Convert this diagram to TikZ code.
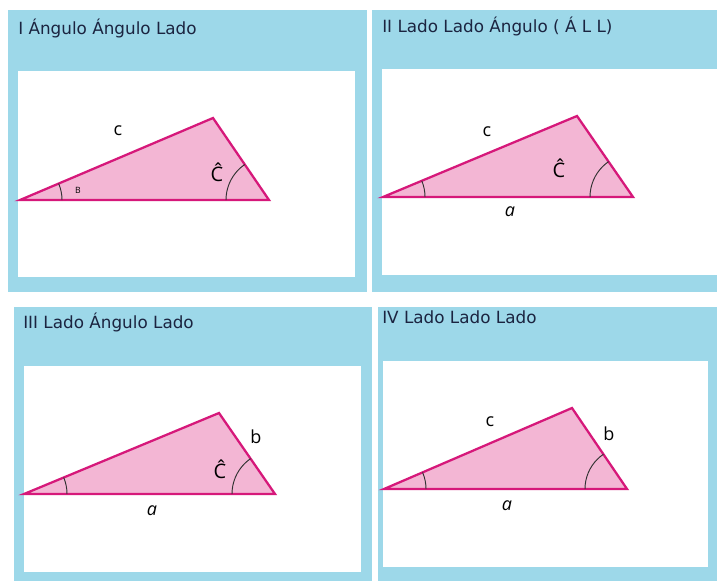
\documentclass[tikz,border=0pt]{standalone}
\usepackage{fontspec}
\setmainfont{DejaVu Sans}
\newfontfamily\lblfont{Open Sans}
\definecolor{panelblue}{RGB}{157,216,233}
\definecolor{trifill}{RGB}{243,182,212}
\definecolor{triedge}{RGB}{214,24,122}
\definecolor{titlecol}{RGB}{27,36,64}
\definecolor{arccol}{RGB}{50,50,50}
\tikzset{
  panel/.style={fill=panelblue, draw=none},
  inner/.style={fill=white, draw=none},
  tri/.style={fill=trifill, draw=triedge, line width=1.7pt, line join=miter},
  anglearc/.style={draw=arccol, line width=0.7pt},
  ttl/.style={anchor=base west, inner sep=0pt, text=titlecol, font=\fontsize{12.6}{14}\selectfont},
  lbl/.style={inner sep=0pt, text=black, font=\lblfont\fontsize{13.5}{15}\selectfont},
  hatlbl/.style={inner sep=0pt, text=black, font=\lblfont\fontsize{15}{17}\selectfont},
  small/.style={inner sep=0pt, text=black, font=\lblfont\fontsize{6.5}{7}\selectfont}
}
\begin{document}
\begin{tikzpicture}[x=0.75pt, y=-0.75pt]
\useasboundingbox (0,0) rectangle (717,581);
\fill[white] (0,0) rectangle (717,581);
% panels
\fill[panel] (8,10) rectangle (367,292);
\fill[inner] (18,71) rectangle (355,277);
\fill[panel] (372,10) rectangle (717,292);
\fill[inner] (382,69) rectangle (717,275);
\fill[panel] (14,307) rectangle (372,581);
\fill[inner] (24,366) rectangle (361,572);
\fill[panel] (378,307) rectangle (717,581);
\fill[inner] (383,361) rectangle (708,567);
% titles
\node[ttl] (t1) at (18,35) {I Ángulo Ángulo Lado};
\node[ttl] (t2) at (382,33) {II Lado Lado Ángulo ( Á L L)};
\node[ttl] (t3) at (23,328) {III Lado Ángulo Lado};
\node[ttl] (t4) at (382,323) {IV Lado Lado Lado};
% triangle I
\coordinate (a1) at (20,200); \coordinate (b1) at (213,118); \coordinate (c1) at (269,200);
\draw[tri] (a1) -- (b1) -- (c1) -- cycle;
\begin{scope}
 \clip (a1) -- (b1) -- (c1) -- cycle;
 \draw[anglearc] (a1) circle (42);
 \draw[anglearc] (c1) circle (43);
\end{scope}
\node[lbl] (l1c) at (118,131) {c};
\node[small] (l1b) at (78,190) {B};
\node[hatlbl] (l1h) at (217,172) {Ĉ};
% triangle II
\coordinate (a2) at (383,197); \coordinate (b2) at (577,116); \coordinate (c2) at (633,197);
\draw[tri] (a2) -- (b2) -- (c2) -- cycle;
\begin{scope}
 \clip (a2) -- (b2) -- (c2) -- cycle;
 \draw[anglearc] (a2) circle (42);
 \draw[anglearc] (c2) circle (43);
\end{scope}
\node[lbl] (l2c) at (487,132) {c};
\node[lbl] (l2a) at (510,212) {\itshape a};
\node[hatlbl] (l2h) at (559,168) {Ĉ};
% triangle III
\coordinate (a3) at (24,494); \coordinate (b3) at (219,413); \coordinate (c3) at (275,494);
\draw[tri] (a3) -- (b3) -- (c3) -- cycle;
\begin{scope}
 \clip (a3) -- (b3) -- (c3) -- cycle;
 \draw[anglearc] (a3) circle (43);
 \draw[anglearc] (c3) circle (43);
\end{scope}
\node[lbl] (l3b) at (256,437) {b};
\node[hatlbl] (l3h) at (220,469) {Ĉ};
\node[lbl] (l3a) at (152,511) {\itshape a};
% triangle IV
\coordinate (a4) at (384,489); \coordinate (b4) at (572,408); \coordinate (c4) at (627,489);
\draw[tri] (a4) -- (b4) -- (c4) -- cycle;
\begin{scope}
 \clip (a4) -- (b4) -- (c4) -- cycle;
 \draw[anglearc] (a4) circle (42);
 \draw[anglearc] (c4) circle (42);
\end{scope}
\node[lbl] (l4c) at (490,422) {c};
\node[lbl] (l4b) at (609,434) {b};
\node[lbl] (l4a) at (507,506) {\itshape a};
\end{tikzpicture}
\end{document}
